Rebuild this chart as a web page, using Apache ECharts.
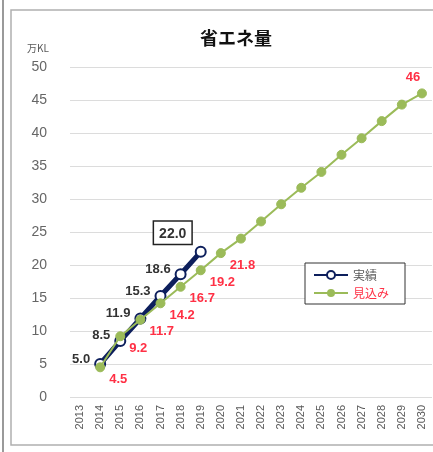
<!DOCTYPE html>
<html>
<head>
<meta charset="utf-8">
<script src="https://cdn.jsdelivr.net/npm/echarts@6/dist/echarts.min.js"></script>
<style>
  html, body { margin: 0; padding: 0; background: #fff; }
  #chart { width: 433px; height: 452px; }
</style>
</head>
<body>
<div id="chart"></div>
<script>
// 年度（横軸）
const years = ['2013','2014','2015','2016','2017','2018','2019','2020','2021','2022',
               '2023','2024','2025','2026','2027','2028','2029','2030'];
// 実績（万KL）
const actual = [null, 5.0, 8.5, 11.9, 15.3, 18.6, 22.0, null, null, null,
                null, null, null, null, null, null, null, null];
// 見込み（万KL）
const forecast = [null, 4.5, 9.2, 11.7, 14.2, 16.7, 19.2, 21.8, 24.0, 26.6,
                  29.2, 31.7, 34.1, 36.7, 39.2, 41.8, 44.3, 46.0];
// 値を表示する見込みの年度
const forecastLabeled = ['2014','2015','2016','2017','2018','2019','2020','2030'];

const navy = '#0d1f5c';
const green = '#9bbb59';
const red = '#ff3045';
const font = '"Liberation Sans", "Noto Sans CJK JP", sans-serif';

const chart = echarts.init(document.getElementById('chart'));

const actualData = actual.map((v, i) => {
  if (v === null) return null;
  // 最新の実績値は枠付きで上に表示
  if (i === actual.length - 1 || actual[i + 1] === null) {
    return {
      value: v,
      label: {
        position: 'top', offset: [-28, 2],
        borderColor: '#222', borderWidth: 1.5, padding: [5, 5, 3, 5],
        backgroundColor: '#fff', fontSize: 14
      }
    };
  }
  return v;
});

const forecastData = forecast.map((v, i) => {
  if (v === null) return null;
  if (i === forecast.length - 1) {
    return { value: v, label: { show: true, position: 'top', offset: [-9, 0] } };
  }
  return { value: v, label: { show: forecastLabeled.includes(years[i]) } };
});

chart.setOption({
  backgroundColor: '#fff',
  animation: false,
  title: {
    text: '省エネ量',
    left: 231, top: 24, textAlign: 'center',
    textStyle: { fontFamily: '"Noto Sans CJK JP", sans-serif', fontSize: 18, fontWeight: 'bold', color: '#111' }
  },
  grid: { left: 70, right: 1, top: 67, bottom: 55 },
  legend: {
    orient: 'vertical',
    left: 305, top: 263,
    padding: [6, 16, 5, 8],
    itemGap: 6,
    itemWidth: 34, itemHeight: 10,
    borderColor: '#333', borderWidth: 1,
    backgroundColor: '#fff',
    textStyle: { fontFamily: '"Noto Sans CJK JP", sans-serif', fontSize: 12 },
    data: [
      { name: '実績', textStyle: { color: '#595959' } },
      { name: '見込み', textStyle: { color: red } }
    ]
  },
  xAxis: {
    type: 'category',
    data: years,
    boundaryGap: true,
    axisLine: { show: false },
    axisTick: { show: false },
    axisLabel: { rotate: 90, margin: 8, fontSize: 11, color: '#595959', fontFamily: font, interval: 0 }
  },
  yAxis: {
    type: 'value',
    min: 0, max: 50, interval: 5,
    name: '万KL',
    nameLocation: 'end',
    nameGap: 14,
    nameTextStyle: { fontFamily: '"Noto Sans CJK JP", sans-serif', fontSize: 10, color: '#595959', align: 'center', padding: [0, 64, 0, 0] },
    axisLine: { show: false },
    axisTick: { show: false },
    axisLabel: { margin: 23, fontSize: 14, color: '#666', fontFamily: font },
    splitLine: { lineStyle: { color: '#dcdcdc', width: 1 } }
  },
  graphic: [
    { type: 'line', shape: { x1: 3, y1: 0, x2: 3, y2: 452 }, style: { stroke: '#9a9a9a', lineWidth: 2 }, silent: true },
    { type: 'rect', shape: { x: 11, y: 10, width: 430, height: 435 }, style: { fill: 'none', stroke: '#b0b0b0', lineWidth: 1.5 }, silent: true, z: -1 }
  ],
  series: [
    {
      name: '実績',
      type: 'line',
      data: actualData,
      color: navy,
      lineStyle: { color: navy, width: 5 },
      symbol: 'circle',
      symbolSize: 10,
      itemStyle: { color: '#fff', borderColor: navy, borderWidth: 2 },
      label: {
        show: true, position: 'left', distance: 4, offset: [0, -5],
        color: '#333', fontSize: 13, fontWeight: 'bold', fontFamily: font,
        formatter: p => p.value.toFixed(1)
      },
      z: 2
    },
    {
      name: '見込み',
      type: 'line',
      data: forecastData,
      color: green,
      lineStyle: { color: green, width: 2 },
      symbol: 'circle',
      symbolSize: 9,
      itemStyle: { color: green, borderColor: green },
      label: {
        position: 'right', distance: 4, offset: [0, 12],
        color: red, fontSize: 13, fontWeight: 'bold', fontFamily: font,
        formatter: p => (p.dataIndex === forecast.length - 1) ? String(p.value) : p.value.toFixed(1)
      },
      z: 3
    }
  ]
});
</script>
</body>
</html>
